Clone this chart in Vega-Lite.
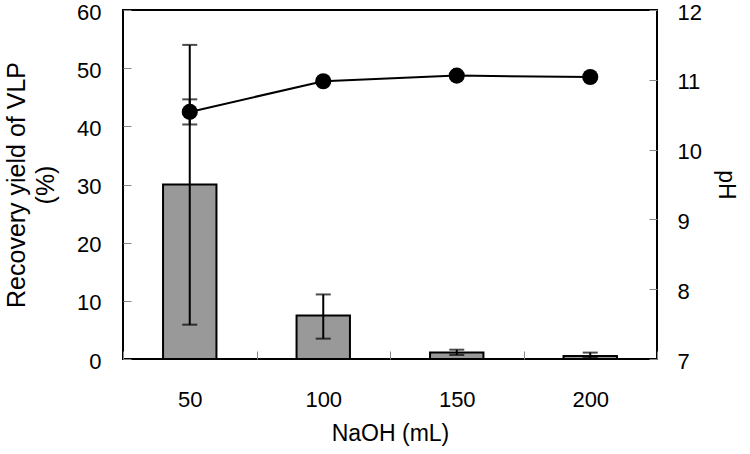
{
  "$schema": "https://vega.github.io/schema/vega-lite/v6.json",
  "autosize": "none",
  "width": 534,
  "height": 349,
  "padding": {"left": 123, "top": 10, "right": 93, "bottom": 95},
  "background": "white",
  "config": {
    "view": {"stroke": "black", "strokeWidth": 2},
    "font": "Liberation Sans",
    "axis": {
      "labelFont": "Liberation Sans",
      "titleFont": "Liberation Sans",
      "labelFontSize": 22,
      "titleFontSize": 23,
      "labelColor": "black",
      "titleColor": "black",
      "titleFontWeight": "normal",
      "domain": false,
      "grid": false,
      "tickColor": "#888",
      "tickWidth": 1
    }
  },
  "data": {
    "values": [
      {"naoh": "50", "yield": 30, "ylo": 5.9, "yhi": 54, "ph": 10.54, "phlo": 10.36, "phhi": 10.72},
      {"naoh": "100", "yield": 7.5, "ylo": 3.5, "yhi": 11.1, "ph": 10.98, "phlo": null, "phhi": null},
      {"naoh": "150", "yield": 1.1, "ylo": 0.7, "yhi": 1.6, "ph": 11.06, "phlo": null, "phhi": null},
      {"naoh": "200", "yield": 0.5, "ylo": 0.2, "yhi": 1.1, "ph": 11.04, "phlo": null, "phhi": null}
    ]
  },
  "encoding": {
    "x": {
      "field": "naoh",
      "type": "ordinal",
      "sort": null,
      "scale": {"paddingInner": 0, "paddingOuter": 0},
      "axis": {
        "title": "NaOH (mL)",
        "labelAngle": 0,
        "tickBand": "extent",
        "tickSize": -8,
        "labelPadding": 38,
        "titlePadding": 12
      }
    }
  },
  "layer": [
    {
      "layer": [
        {
          "mark": {"type": "bar", "fill": "#999999", "stroke": "black", "strokeWidth": 2, "width": {"band": 0.4}},
          "encoding": {
            "y": {
              "field": "yield",
              "type": "quantitative",
              "scale": {"domain": [0, 60], "nice": false},
              "axis": {
                "title": ["Recovery yield of VLP", "(%)"],
                "values": [0, 10, 20, 30, 40, 50, 60],
                "tickSize": -8,
                "labelPadding": 30,
                "labelOffset": 2,
                "titlePadding": 18,
                "titleFontSize": 25,
                "titleLineHeight": 29
              }
            }
          }
        },
        {
          "mark": {"type": "rule", "color": "black", "strokeWidth": 2},
          "encoding": {
            "y": {"field": "ylo", "type": "quantitative", "title": ["Recovery yield of VLP", "(%)"]},
            "y2": {"field": "yhi"}
          }
        },
        {
          "mark": {"type": "tick", "color": "black", "thickness": 2, "size": 15, "orient": "horizontal"},
          "encoding": {"y": {"field": "ylo", "type": "quantitative", "title": ["Recovery yield of VLP", "(%)"]}}
        },
        {
          "mark": {"type": "tick", "color": "black", "thickness": 2, "size": 15, "orient": "horizontal"},
          "encoding": {"y": {"field": "yhi", "type": "quantitative", "title": ["Recovery yield of VLP", "(%)"]}}
        }
      ]
    },
    {
      "layer": [
        {
          "mark": {"type": "line", "color": "black", "strokeWidth": 2},
          "encoding": {
            "y": {
              "field": "ph",
              "type": "quantitative",
              "scale": {"domain": [7, 12], "nice": false},
              "axis": {
                "title": "pH",
                "orient": "right",
                "values": [7, 8, 9, 10, 11, 12],
                "format": "d",
                "tickSize": -8,
                "labelPadding": 28,
                "labelOffset": 2,
                "titlePadding": 12,
                "titleFontSize": 23
              }
            }
          }
        },
        {
          "mark": {"type": "rule", "color": "black", "strokeWidth": 2},
          "encoding": {
            "y": {"field": "phlo", "type": "quantitative", "title": "pH"},
            "y2": {"field": "phhi"}
          }
        },
        {
          "mark": {"type": "tick", "color": "black", "thickness": 2, "size": 15, "orient": "horizontal"},
          "encoding": {"y": {"field": "phlo", "type": "quantitative", "title": "pH"}}
        },
        {
          "mark": {"type": "tick", "color": "black", "thickness": 2, "size": 15, "orient": "horizontal"},
          "encoding": {"y": {"field": "phhi", "type": "quantitative", "title": "pH"}}
        },
        {
          "mark": {"type": "point", "filled": true, "color": "black", "size": 260, "opacity": 1},
          "encoding": {"y": {"field": "ph", "type": "quantitative", "title": "pH"}}
        }
      ]
    }
  ],
  "resolve": {"scale": {"y": "independent"}}
}
